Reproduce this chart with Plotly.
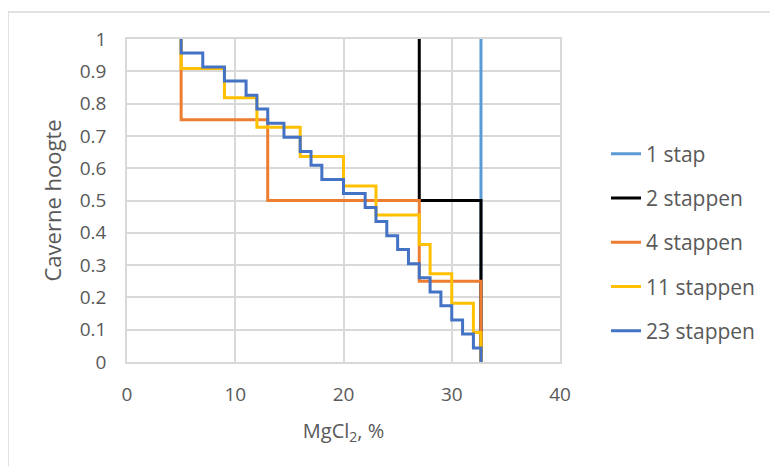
import plotly.graph_objects as go

# Step profiles: MgCl2 (%) vs cavern height (fraction)
names = ["1 stap", "2 stappen", "4 stappen", "11 stappen", "23 stappen"]

x_1 = [32.7, 32.7]
y_1 = [1, 0]

x_2 = [27, 27, 32.7]
y_2 = [1, 0.5, 0]

x_4 = [5, 5, 13, 27, 32.7]
y_4 = [1, 0.75, 0.5, 0.25, 0]

x_11 = [5, 5, 9, 12, 16, 20, 23, 27, 28, 30, 32, 32.7]
y_11 = [1, 0.909, 0.818, 0.727, 0.636, 0.545, 0.455, 0.364, 0.273, 0.182, 0.091, 0]

x_23 = [5, 5, 7, 9, 11, 12, 13, 14.5, 16, 17, 18, 20, 22, 23, 24, 25, 26, 27, 28, 29, 30, 31, 32, 32.7]
y_23 = [1, 0.957, 0.913, 0.870, 0.826, 0.783, 0.739, 0.696, 0.652, 0.609, 0.565, 0.522,
        0.478, 0.435, 0.391, 0.348, 0.304, 0.261, 0.217, 0.174, 0.130, 0.087, 0.043, 0]

colors = ["#5B9BD5", "#000000", "#ED7D31", "#FFC000", "#4472C4"]

x_ticks = [0, 10, 20, 30, 40]
y_ticks = [0, 0.1, 0.2, 0.3, 0.4, 0.5, 0.6, 0.7, 0.8, 0.9, 1]
y_ticklabels = ["0", "0.1", "0.2", "0.3", "0.4", "0.5", "0.6", "0.7", "0.8", "0.9", "1"]

series = [(x_1, y_1), (x_2, y_2), (x_4, y_4), (x_11, y_11), (x_23, y_23)]

FONT = "Open Sans"
TXT = "#595959"
GRID = "#D9D9D9"

fig = go.Figure()
for i, ((xs, ys), name, col) in enumerate(zip(series, names, colors)):
    fig.add_trace(go.Scatter(
        x=xs, y=ys, name=name, mode="lines",
        line=dict(color=col, width=3, shape="hv"),
        legendgroup=f"g{i}",
    ))

# page body has an 8px margin, so the figure is offset by (8, 8)
L, T, R, B = 119, 31, 226, 112
PW = 778 - L - R
PH = 466 - T - B

fig.update_layout(
    width=778, height=466,
    margin=dict(l=L, r=R, t=T, b=B),
    paper_bgcolor="white", plot_bgcolor="white",
    font=dict(family=FONT, color=TXT, size=19),
    showlegend=True,
    legend=dict(
        x=(606 - 127) / PW, xanchor="left", y=0.37, yanchor="middle",
        font=dict(family=FONT, size=21, color=TXT),
        tracegroupgap=14, bgcolor="rgba(0,0,0,0)",
    ),
    xaxis=dict(
        range=[0, 40], tickvals=x_ticks, ticktext=[str(v) for v in x_ticks],
        showgrid=True, gridcolor=GRID, gridwidth=1.5,
        showline=True, linecolor=GRID, linewidth=1.5, mirror=True,
        zeroline=False, ticks="", ticklabelstandoff=14,
        tickfont=dict(size=19, color=TXT),
        title=dict(text="MgCl<sub>2</sub>, %", font=dict(size=20, color=TXT), standoff=18),
    ),
    yaxis=dict(
        range=[0, 1], tickvals=y_ticks, ticktext=y_ticklabels,
        showgrid=True, gridcolor=GRID, gridwidth=1.5,
        showline=True, linecolor=GRID, linewidth=1.5, mirror=True,
        zeroline=False, ticks="", ticklabelstandoff=15,
        tickfont=dict(size=19, color=TXT),
    ),
    annotations=[dict(
        text="Caverne hoogte", textangle=-90, showarrow=False,
        xref="paper", yref="paper", x=(51 - 127) / PW, y=0.5,
        xanchor="center", yanchor="middle",
        font=dict(family=FONT, size=22, color=TXT),
    )],
    shapes=[dict(
        type="rect", xref="paper", yref="paper",
        x0=(8 - 127) / PW, x1=1.7, y0=-0.6, y1=(362 - 12) / PH,
        line=dict(color=GRID, width=1.5), fillcolor="rgba(0,0,0,0)", layer="below",
    )],
)

fig.write_html("out.html")
